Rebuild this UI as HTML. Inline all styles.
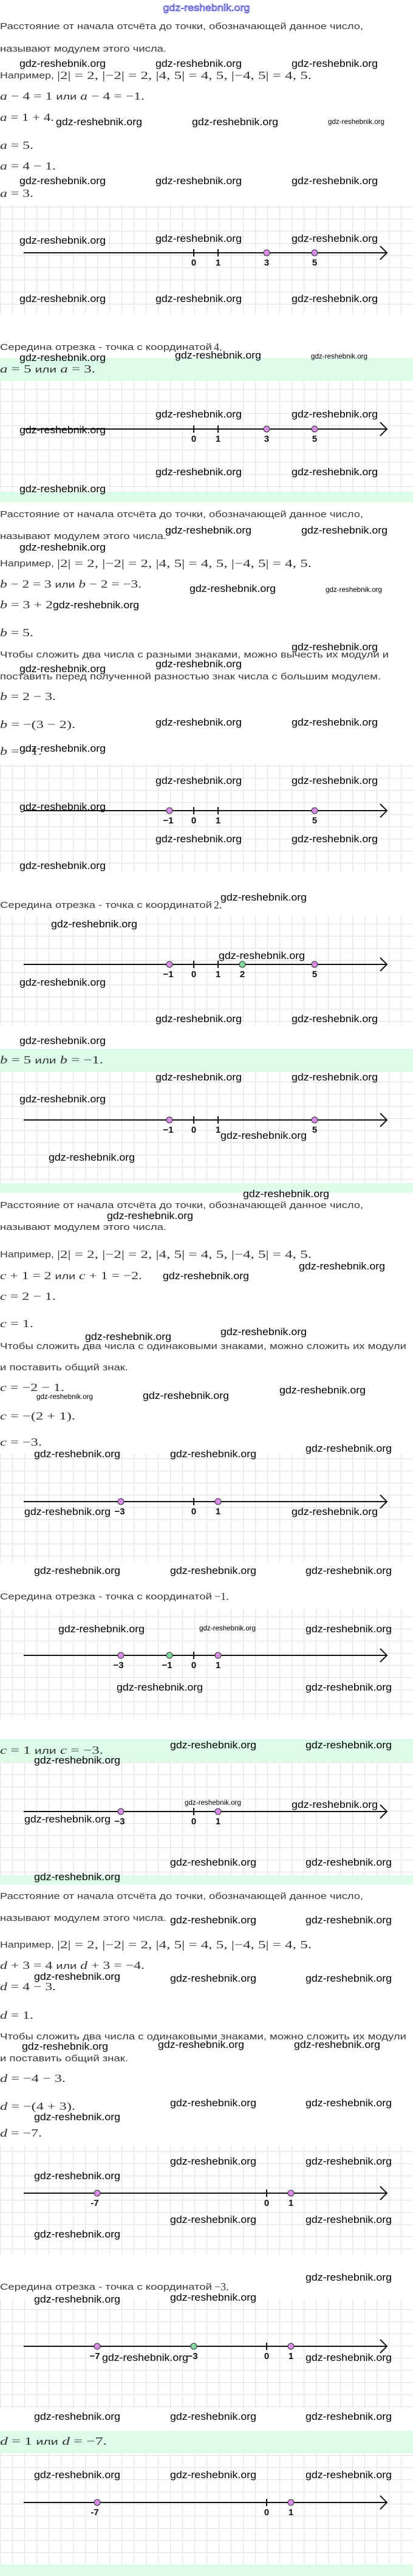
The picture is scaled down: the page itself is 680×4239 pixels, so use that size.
<!DOCTYPE html>
<html><head><meta charset="utf-8"><style>
html,body{margin:0;padding:0;background:#fff}
svg{display:block}
.b{font-family:"Liberation Sans",sans-serif;font-size:15px;fill:#3a3a3a}
.m{font-family:"Liberation Serif",serif;font-size:18px;fill:#333}
.m tspan.i{font-style:italic}
.m tspan.r{font-family:"Liberation Sans",sans-serif;font-size:15px}
.w{font-family:"Liberation Sans",sans-serif;font-size:17px;fill:#000}
.s{font-family:"Liberation Sans",sans-serif;font-size:12px;fill:#000}
.l{font-family:"Liberation Sans",sans-serif;font-size:15px;font-weight:bold;fill:#111;text-anchor:middle}
</style></head><body>
<svg width="680" height="4239" viewBox="0 0 680 4239" xmlns="http://www.w3.org/2000/svg">
<defs>
<pattern id="g" width="20" height="20" patternUnits="userSpaceOnUse">
<rect width="20" height="20" fill="#fff"/>
<path d="M0 0.5H20M0.5 0V20" stroke="#e4e4e4" stroke-width="1"/>
</pattern>
<g id="ar"><line x1="39" y1="0" x2="636" y2="0" stroke="#111" stroke-width="2"/><polyline points="626,-11 637,0 626,11" fill="none" stroke="#111" stroke-width="2"/></g>
</defs>

<!-- grids & bands -->
<rect x="0" y="337" width="680" height="181" fill="url(#g)"/>
<rect x="0" y="589" width="680" height="38" fill="#dcfce9"/>
<rect x="0" y="627" width="680" height="182" fill="url(#g)"/>
<rect x="0" y="809" width="680" height="18" fill="#dcfce9"/>
<rect x="0" y="1256" width="680" height="180" fill="url(#g)"/>
<rect x="0" y="1507" width="680" height="181" fill="url(#g)"/>
<rect x="0" y="1726" width="680" height="38" fill="#dcfce9"/>
<rect x="0" y="1764" width="680" height="183" fill="url(#g)"/>
<rect x="0" y="1947" width="680" height="16" fill="#dcfce9"/>
<rect x="0" y="2392" width="680" height="179" fill="url(#g)"/>
<rect x="0" y="2647" width="680" height="180" fill="url(#g)"/>
<rect x="0" y="2862" width="680" height="37" fill="#dcfce9"/>
<rect x="0" y="2899" width="680" height="187" fill="url(#g)"/>
<rect x="0" y="3086" width="680" height="15" fill="#dcfce9"/>
<rect x="0" y="3531" width="680" height="179" fill="url(#g)"/>
<rect x="0" y="3783" width="680" height="181" fill="url(#g)"/>
<rect x="0" y="4000" width="680" height="37" fill="#dcfce9"/>
<rect x="0" y="4037" width="680" height="183" fill="url(#g)"/>
<rect x="0" y="4220" width="680" height="19" fill="#dcfce9"/>

<!-- title -->
<text x="340" y="18" text-anchor="middle" font-family="Liberation Sans,sans-serif" font-size="16" fill="#fff" stroke="#3b3bd0" stroke-width="0.8" textLength="143" lengthAdjust="spacingAndGlyphs">gdz-reshebnik.org</text>

<!-- ===== Section A ===== -->
<text class="b" x="0" y="48" textLength="598" lengthAdjust="spacingAndGlyphs">Расстояние от начала отсчёта до точки, обозначающей данное число,</text>
<text class="b" x="0" y="85" textLength="274" lengthAdjust="spacingAndGlyphs">называют модулем этого числа.</text>
<text class="b" x="0" y="129" textLength="89" lengthAdjust="spacingAndGlyphs">Например,</text>
<text class="m" x="94" y="130" textLength="419" lengthAdjust="spacingAndGlyphs">|2| = 2,  |−2| = 2,  |4, 5| = 4, 5,  |−4, 5| = 4, 5.</text>
<text class="m" x="0" y="164" textLength="238" lengthAdjust="spacingAndGlyphs"><tspan class="i">a</tspan> − 4 = 1 <tspan class="r">или</tspan> <tspan class="i">a</tspan> − 4 = −1.</text>
<text class="m" x="0" y="199" textLength="89" lengthAdjust="spacingAndGlyphs"><tspan class="i">a</tspan> = 1 + 4.</text>
<text class="m" x="0" y="245" textLength="55" lengthAdjust="spacingAndGlyphs"><tspan class="i">a</tspan> = 5.</text>
<text class="m" x="0" y="279" textLength="92" lengthAdjust="spacingAndGlyphs"><tspan class="i">a</tspan> = 4 − 1.</text>
<text class="m" x="0" y="324" textLength="55" lengthAdjust="spacingAndGlyphs"><tspan class="i">a</tspan> = 3.</text>

<use href="#ar" y="416"/>
<line x1="319" y1="410" x2="319" y2="422" stroke="#111" stroke-width="2"/>
<line x1="359" y1="410" x2="359" y2="422" stroke="#111" stroke-width="2"/>
<circle cx="439" cy="416" r="5" fill="#d98be8" stroke="#333"/>
<circle cx="518" cy="416" r="5" fill="#d98be8" stroke="#333"/>
<text class="l" x="319" y="425" dy="12">0</text><text class="l" x="359" y="425" dy="12">1</text><text class="l" x="439" y="425" dy="12">3</text><text class="l" x="518" y="425" dy="12">5</text>

<text class="b" x="0" y="576" textLength="349" lengthAdjust="spacingAndGlyphs">Середина отрезка - точка с координатой</text>
<text class="m" x="352" y="577">4.</text>
<text class="m" x="0" y="613" textLength="157" lengthAdjust="spacingAndGlyphs"><tspan class="i">a</tspan> = 5 <tspan class="r">или</tspan> <tspan class="i">a</tspan> = 3.</text>

<use href="#ar" y="706"/>
<line x1="319" y1="700" x2="319" y2="712" stroke="#111" stroke-width="2"/>
<line x1="359" y1="700" x2="359" y2="712" stroke="#111" stroke-width="2"/>
<circle cx="439" cy="706" r="5" fill="#d98be8" stroke="#333"/>
<circle cx="518" cy="706" r="5" fill="#d98be8" stroke="#333"/>
<text class="l" x="319" y="727">0</text><text class="l" x="359" y="727">1</text><text class="l" x="439" y="727">3</text><text class="l" x="518" y="727">5</text>

<!-- ===== Section B ===== -->
<text class="b" x="0" y="851" textLength="598" lengthAdjust="spacingAndGlyphs">Расстояние от начала отсчёта до точки, обозначающей данное число,</text>
<text class="b" x="0" y="887" textLength="274" lengthAdjust="spacingAndGlyphs">называют модулем этого числа.</text>
<text class="b" x="0" y="932" textLength="89" lengthAdjust="spacingAndGlyphs">Например,</text>
<text class="m" x="94" y="933" textLength="419" lengthAdjust="spacingAndGlyphs">|2| = 2,  |−2| = 2,  |4, 5| = 4, 5,  |−4, 5| = 4, 5.</text>
<text class="m" x="0" y="967" textLength="233" lengthAdjust="spacingAndGlyphs"><tspan class="i">b</tspan> − 2 = 3 <tspan class="r">или</tspan> <tspan class="i">b</tspan> − 2 = −3.</text>
<text class="m" x="0" y="1001" textLength="87" lengthAdjust="spacingAndGlyphs"><tspan class="i">b</tspan> = 3 + 2</text>
<text class="m" x="0" y="1047" textLength="55" lengthAdjust="spacingAndGlyphs"><tspan class="i">b</tspan> = 5.</text>
<text class="b" x="0" y="1082" textLength="640" lengthAdjust="spacingAndGlyphs">Чтобы сложить два числа с разными знаками, можно вычесть их модули и</text>
<text class="b" x="0" y="1118" textLength="627" lengthAdjust="spacingAndGlyphs">поставить перед полученной разностью знак числа с большим модулем.</text>
<text class="m" x="0" y="1152" textLength="92" lengthAdjust="spacingAndGlyphs"><tspan class="i">b</tspan> = 2 − 3.</text>
<text class="m" x="0" y="1198" textLength="124" lengthAdjust="spacingAndGlyphs"><tspan class="i">b</tspan> = −(3 − 2).</text>
<text class="m" x="0" y="1242" textLength="69" lengthAdjust="spacingAndGlyphs"><tspan class="i">b</tspan> = −1.</text>

<use href="#ar" y="1334"/>
<line x1="319" y1="1328" x2="319" y2="1340" stroke="#111" stroke-width="2"/>
<line x1="359" y1="1328" x2="359" y2="1340" stroke="#111" stroke-width="2"/>
<circle cx="279" cy="1334" r="5" fill="#d98be8" stroke="#333"/>
<circle cx="518" cy="1334" r="5" fill="#d98be8" stroke="#333"/>
<text class="l" x="277" y="1355">−1</text><text class="l" x="319" y="1355">0</text><text class="l" x="359" y="1355">1</text><text class="l" x="518" y="1355">5</text>

<text class="b" x="0" y="1494" textLength="349" lengthAdjust="spacingAndGlyphs">Середина отрезка - точка с координатой</text>
<text class="m" x="352" y="1495">2.</text>

<use href="#ar" y="1587"/>
<line x1="319" y1="1581" x2="319" y2="1593" stroke="#111" stroke-width="2"/>
<line x1="359" y1="1581" x2="359" y2="1593" stroke="#111" stroke-width="2"/>
<circle cx="279" cy="1587" r="5" fill="#d98be8" stroke="#333"/>
<circle cx="399" cy="1587" r="5" fill="#7fd9a0" stroke="#333"/>
<circle cx="518" cy="1587" r="5" fill="#d98be8" stroke="#333"/>
<text class="l" x="277" y="1608">−1</text><text class="l" x="319" y="1608">0</text><text class="l" x="359" y="1608">1</text><text class="l" x="399" y="1608">2</text><text class="l" x="518" y="1608">5</text>

<text class="m" x="0" y="1750" textLength="170" lengthAdjust="spacingAndGlyphs"><tspan class="i">b</tspan> = 5 <tspan class="r">или</tspan> <tspan class="i">b</tspan> = −1.</text>

<use href="#ar" y="1843"/>
<line x1="319" y1="1837" x2="319" y2="1849" stroke="#111" stroke-width="2"/>
<line x1="359" y1="1837" x2="359" y2="1849" stroke="#111" stroke-width="2"/>
<circle cx="279" cy="1843" r="5" fill="#d98be8" stroke="#333"/>
<circle cx="518" cy="1843" r="5" fill="#d98be8" stroke="#333"/>
<text class="l" x="277" y="1864">−1</text><text class="l" x="319" y="1864">0</text><text class="l" x="359" y="1864">1</text><text class="l" x="518" y="1864">5</text>

<!-- ===== Section C ===== -->
<text class="b" x="0" y="1988" textLength="598" lengthAdjust="spacingAndGlyphs">Расстояние от начала отсчёта до точки, обозначающей данное число,</text>
<text class="b" x="0" y="2024" textLength="274" lengthAdjust="spacingAndGlyphs">называют модулем этого числа.</text>
<text class="b" x="0" y="2069" textLength="89" lengthAdjust="spacingAndGlyphs">Например,</text>
<text class="m" x="94" y="2070" textLength="419" lengthAdjust="spacingAndGlyphs">|2| = 2,  |−2| = 2,  |4, 5| = 4, 5,  |−4, 5| = 4, 5.</text>
<text class="m" x="0" y="2105" textLength="234" lengthAdjust="spacingAndGlyphs"><tspan class="i">c</tspan> + 1 = 2 <tspan class="r">или</tspan> <tspan class="i">c</tspan> + 1 = −2.</text>
<text class="m" x="0" y="2139" textLength="92" lengthAdjust="spacingAndGlyphs"><tspan class="i">c</tspan> = 2 − 1.</text>
<text class="m" x="0" y="2184" textLength="55" lengthAdjust="spacingAndGlyphs"><tspan class="i">c</tspan> = 1.</text>
<text class="b" x="0" y="2220" textLength="669" lengthAdjust="spacingAndGlyphs">Чтобы сложить два числа с одинаковыми знаками, можно сложить их модули</text>
<text class="b" x="0" y="2255" textLength="211" lengthAdjust="spacingAndGlyphs">и поставить общий знак.</text>
<text class="m" x="0" y="2289" textLength="106" lengthAdjust="spacingAndGlyphs"><tspan class="i">c</tspan> = −2 − 1.</text>
<text class="m" x="0" y="2336" textLength="124" lengthAdjust="spacingAndGlyphs"><tspan class="i">c</tspan> = −(2 + 1).</text>
<text class="m" x="0" y="2379" textLength="69" lengthAdjust="spacingAndGlyphs"><tspan class="i">c</tspan> = −3.</text>

<use href="#ar" y="2471"/>
<line x1="319" y1="2465" x2="319" y2="2477" stroke="#111" stroke-width="2"/>
<circle cx="199" cy="2471" r="5" fill="#d98be8" stroke="#333"/>
<circle cx="359" cy="2471" r="5" fill="#d98be8" stroke="#333"/>
<text class="l" x="197" y="2492">−3</text><text class="l" x="319" y="2492">0</text><text class="l" x="359" y="2492">1</text>

<text class="b" x="0" y="2632" textLength="349" lengthAdjust="spacingAndGlyphs">Середина отрезка - точка с координатой</text>
<text class="m" x="353" y="2633">−1.</text>

<use href="#ar" y="2724"/>
<line x1="319" y1="2718" x2="319" y2="2730" stroke="#111" stroke-width="2"/>
<circle cx="199" cy="2724" r="5" fill="#d98be8" stroke="#333"/>
<circle cx="279" cy="2724" r="5" fill="#7fd9a0" stroke="#333"/>
<circle cx="359" cy="2724" r="5" fill="#d98be8" stroke="#333"/>
<text class="l" x="195" y="2745">−3</text><text class="l" x="275" y="2745">−1</text><text class="l" x="319" y="2745">0</text><text class="l" x="359" y="2745">1</text>

<text class="m" x="0" y="2886" textLength="170" lengthAdjust="spacingAndGlyphs"><tspan class="i">c</tspan> = 1 <tspan class="r">или</tspan> <tspan class="i">c</tspan> = −3.</text>

<use href="#ar" y="2981"/>
<line x1="319" y1="2975" x2="319" y2="2987" stroke="#111" stroke-width="2"/>
<circle cx="199" cy="2981" r="5" fill="#d98be8" stroke="#333"/>
<circle cx="359" cy="2981" r="5" fill="#d98be8" stroke="#333"/>
<text class="l" x="197" y="3002">−3</text><text class="l" x="319" y="3002">0</text><text class="l" x="359" y="3002">1</text>

<!-- ===== Section D ===== -->
<text class="b" x="0" y="3125" textLength="598" lengthAdjust="spacingAndGlyphs">Расстояние от начала отсчёта до точки, обозначающей данное число,</text>
<text class="b" x="0" y="3161" textLength="274" lengthAdjust="spacingAndGlyphs">называют модулем этого числа.</text>
<text class="b" x="0" y="3205" textLength="89" lengthAdjust="spacingAndGlyphs">Например,</text>
<text class="m" x="94" y="3206" textLength="419" lengthAdjust="spacingAndGlyphs">|2| = 2,  |−2| = 2,  |4, 5| = 4, 5,  |−4, 5| = 4, 5.</text>
<text class="m" x="0" y="3240" textLength="238" lengthAdjust="spacingAndGlyphs"><tspan class="i">d</tspan> + 3 = 4 <tspan class="r">или</tspan> <tspan class="i">d</tspan> + 3 = −4.</text>
<text class="m" x="0" y="3275" textLength="92" lengthAdjust="spacingAndGlyphs"><tspan class="i">d</tspan> = 4 − 3.</text>
<text class="m" x="0" y="3322" textLength="55" lengthAdjust="spacingAndGlyphs"><tspan class="i">d</tspan> = 1.</text>
<text class="b" x="0" y="3356" textLength="669" lengthAdjust="spacingAndGlyphs">Чтобы сложить два числа с одинаковыми знаками, можно сложить их модули</text>
<text class="b" x="0" y="3392" textLength="211" lengthAdjust="spacingAndGlyphs">и поставить общий знак.</text>
<text class="m" x="0" y="3426" textLength="108" lengthAdjust="spacingAndGlyphs"><tspan class="i">d</tspan> = −4 − 3.</text>
<text class="m" x="0" y="3472" textLength="124" lengthAdjust="spacingAndGlyphs"><tspan class="i">d</tspan> = −(4 + 3).</text>
<text class="m" x="0" y="3516" textLength="69" lengthAdjust="spacingAndGlyphs"><tspan class="i">d</tspan> = −7.</text>

<use href="#ar" y="3609"/>
<line x1="439" y1="3603" x2="439" y2="3615" stroke="#111" stroke-width="2"/>
<circle cx="160" cy="3609" r="5" fill="#d98be8" stroke="#333"/>
<circle cx="479" cy="3609" r="5" fill="#d98be8" stroke="#333"/>
<text class="l" x="156" y="3630">-7</text><text class="l" x="439" y="3630">0</text><text class="l" x="479" y="3630">1</text>

<text class="b" x="0" y="3768" textLength="349" lengthAdjust="spacingAndGlyphs">Середина отрезка - точка с координатой</text>
<text class="m" x="353" y="3769">−3.</text>

<use href="#ar" y="3861"/>
<line x1="439" y1="3855" x2="439" y2="3867" stroke="#111" stroke-width="2"/>
<circle cx="160" cy="3861" r="5" fill="#d98be8" stroke="#333"/>
<circle cx="319" cy="3861" r="5" fill="#7fd9a0" stroke="#333"/>
<circle cx="479" cy="3861" r="5" fill="#d98be8" stroke="#333"/>
<text class="l" x="156" y="3882">−7</text><text class="l" x="317" y="3882">−3</text><text class="l" x="439" y="3882">0</text><text class="l" x="479" y="3882">1</text>

<text class="m" x="0" y="4023" textLength="176" lengthAdjust="spacingAndGlyphs"><tspan class="i">d</tspan> = 1 <tspan class="r">или</tspan> <tspan class="i">d</tspan> = −7.</text>

<use href="#ar" y="4118"/>
<line x1="439" y1="4112" x2="439" y2="4124" stroke="#111" stroke-width="2"/>
<circle cx="160" cy="4118" r="5" fill="#d98be8" stroke="#333"/>
<circle cx="479" cy="4118" r="5" fill="#d98be8" stroke="#333"/>
<text class="l" x="156" y="4139">-7</text><text class="l" x="439" y="4139">0</text><text class="l" x="479" y="4139">1</text>

<!-- ===== watermarks ===== -->
<g class="w">
<text x="32" y="110" textLength="142" lengthAdjust="spacingAndGlyphs">gdz-reshebnik.org</text>
<text x="256" y="110" textLength="142" lengthAdjust="spacingAndGlyphs">gdz-reshebnik.org</text>
<text x="480" y="110" textLength="142" lengthAdjust="spacingAndGlyphs">gdz-reshebnik.org</text>
<text x="92" y="206" textLength="142" lengthAdjust="spacingAndGlyphs">gdz-reshebnik.org</text>
<text x="316" y="206" textLength="142" lengthAdjust="spacingAndGlyphs">gdz-reshebnik.org</text>
<text x="32" y="303" textLength="142" lengthAdjust="spacingAndGlyphs">gdz-reshebnik.org</text>
<text x="256" y="303" textLength="142" lengthAdjust="spacingAndGlyphs">gdz-reshebnik.org</text>
<text x="480" y="303" textLength="142" lengthAdjust="spacingAndGlyphs">gdz-reshebnik.org</text>
<text x="32" y="401" textLength="142" lengthAdjust="spacingAndGlyphs">gdz-reshebnik.org</text>
<text x="256" y="398" textLength="142" lengthAdjust="spacingAndGlyphs">gdz-reshebnik.org</text>
<text x="480" y="398" textLength="142" lengthAdjust="spacingAndGlyphs">gdz-reshebnik.org</text>
<text x="32" y="497" textLength="142" lengthAdjust="spacingAndGlyphs">gdz-reshebnik.org</text>
<text x="256" y="497" textLength="142" lengthAdjust="spacingAndGlyphs">gdz-reshebnik.org</text>
<text x="480" y="497" textLength="142" lengthAdjust="spacingAndGlyphs">gdz-reshebnik.org</text>
<text x="32" y="594" textLength="142" lengthAdjust="spacingAndGlyphs">gdz-reshebnik.org</text>
<text x="288" y="590" textLength="142" lengthAdjust="spacingAndGlyphs">gdz-reshebnik.org</text>
<text x="256" y="687" textLength="142" lengthAdjust="spacingAndGlyphs">gdz-reshebnik.org</text>
<text x="480" y="687" textLength="142" lengthAdjust="spacingAndGlyphs">gdz-reshebnik.org</text>
<text x="32" y="713" textLength="142" lengthAdjust="spacingAndGlyphs">gdz-reshebnik.org</text>
<text x="256" y="782" textLength="142" lengthAdjust="spacingAndGlyphs">gdz-reshebnik.org</text>
<text x="480" y="782" textLength="142" lengthAdjust="spacingAndGlyphs">gdz-reshebnik.org</text>
<text x="32" y="810" textLength="142" lengthAdjust="spacingAndGlyphs">gdz-reshebnik.org</text>
<text x="272" y="878" textLength="142" lengthAdjust="spacingAndGlyphs">gdz-reshebnik.org</text>
<text x="496" y="878" textLength="142" lengthAdjust="spacingAndGlyphs">gdz-reshebnik.org</text>
<text x="32" y="906" textLength="142" lengthAdjust="spacingAndGlyphs">gdz-reshebnik.org</text>
<text x="312" y="974" textLength="142" lengthAdjust="spacingAndGlyphs">gdz-reshebnik.org</text>
<text x="87" y="1001" textLength="142" lengthAdjust="spacingAndGlyphs">gdz-reshebnik.org</text>
<text x="480" y="1070" textLength="142" lengthAdjust="spacingAndGlyphs">gdz-reshebnik.org</text>
<text x="256" y="1098" textLength="142" lengthAdjust="spacingAndGlyphs">gdz-reshebnik.org</text>
<text x="32" y="1106" textLength="142" lengthAdjust="spacingAndGlyphs">gdz-reshebnik.org</text>
<text x="256" y="1194" textLength="142" lengthAdjust="spacingAndGlyphs">gdz-reshebnik.org</text>
<text x="480" y="1194" textLength="142" lengthAdjust="spacingAndGlyphs">gdz-reshebnik.org</text>
<text x="32" y="1237" textLength="142" lengthAdjust="spacingAndGlyphs">gdz-reshebnik.org</text>
<text x="256" y="1290" textLength="142" lengthAdjust="spacingAndGlyphs">gdz-reshebnik.org</text>
<text x="480" y="1290" textLength="142" lengthAdjust="spacingAndGlyphs">gdz-reshebnik.org</text>
<text x="32" y="1333" textLength="142" lengthAdjust="spacingAndGlyphs">gdz-reshebnik.org</text>
<text x="256" y="1386" textLength="142" lengthAdjust="spacingAndGlyphs">gdz-reshebnik.org</text>
<text x="480" y="1386" textLength="142" lengthAdjust="spacingAndGlyphs">gdz-reshebnik.org</text>
<text x="32" y="1430" textLength="142" lengthAdjust="spacingAndGlyphs">gdz-reshebnik.org</text>
<text x="363" y="1482" textLength="142" lengthAdjust="spacingAndGlyphs">gdz-reshebnik.org</text>
<text x="84" y="1526" textLength="142" lengthAdjust="spacingAndGlyphs">gdz-reshebnik.org</text>
<text x="360" y="1578" textLength="142" lengthAdjust="spacingAndGlyphs">gdz-reshebnik.org</text>
<text x="32" y="1622" textLength="142" lengthAdjust="spacingAndGlyphs">gdz-reshebnik.org</text>
<text x="256" y="1682" textLength="142" lengthAdjust="spacingAndGlyphs">gdz-reshebnik.org</text>
<text x="480" y="1682" textLength="142" lengthAdjust="spacingAndGlyphs">gdz-reshebnik.org</text>
<text x="32" y="1718" textLength="142" lengthAdjust="spacingAndGlyphs">gdz-reshebnik.org</text>
<text x="256" y="1778" textLength="142" lengthAdjust="spacingAndGlyphs">gdz-reshebnik.org</text>
<text x="480" y="1778" textLength="142" lengthAdjust="spacingAndGlyphs">gdz-reshebnik.org</text>
<text x="32" y="1814" textLength="142" lengthAdjust="spacingAndGlyphs">gdz-reshebnik.org</text>
<text x="363" y="1874" textLength="142" lengthAdjust="spacingAndGlyphs">gdz-reshebnik.org</text>
<text x="80" y="1910" textLength="142" lengthAdjust="spacingAndGlyphs">gdz-reshebnik.org</text>
<text x="400" y="1970" textLength="142" lengthAdjust="spacingAndGlyphs">gdz-reshebnik.org</text>
<text x="176" y="2006" textLength="142" lengthAdjust="spacingAndGlyphs">gdz-reshebnik.org</text>
<text x="492" y="2089" textLength="142" lengthAdjust="spacingAndGlyphs">gdz-reshebnik.org</text>
<text x="268" y="2105" textLength="142" lengthAdjust="spacingAndGlyphs">gdz-reshebnik.org</text>
<text x="140" y="2205" textLength="142" lengthAdjust="spacingAndGlyphs">gdz-reshebnik.org</text>
<text x="363" y="2197" textLength="142" lengthAdjust="spacingAndGlyphs">gdz-reshebnik.org</text>
<text x="235" y="2302" textLength="142" lengthAdjust="spacingAndGlyphs">gdz-reshebnik.org</text>
<text x="460" y="2293" textLength="142" lengthAdjust="spacingAndGlyphs">gdz-reshebnik.org</text>
<text x="56" y="2398" textLength="142" lengthAdjust="spacingAndGlyphs">gdz-reshebnik.org</text>
<text x="280" y="2398" textLength="142" lengthAdjust="spacingAndGlyphs">gdz-reshebnik.org</text>
<text x="503" y="2389" textLength="142" lengthAdjust="spacingAndGlyphs">gdz-reshebnik.org</text>
<text x="40" y="2493" textLength="142" lengthAdjust="spacingAndGlyphs">gdz-reshebnik.org</text>
<text x="480" y="2493" textLength="142" lengthAdjust="spacingAndGlyphs">gdz-reshebnik.org</text>
<text x="56" y="2590" textLength="142" lengthAdjust="spacingAndGlyphs">gdz-reshebnik.org</text>
<text x="280" y="2590" textLength="142" lengthAdjust="spacingAndGlyphs">gdz-reshebnik.org</text>
<text x="503" y="2590" textLength="142" lengthAdjust="spacingAndGlyphs">gdz-reshebnik.org</text>
<text x="96" y="2686" textLength="142" lengthAdjust="spacingAndGlyphs">gdz-reshebnik.org</text>
<text x="503" y="2686" textLength="142" lengthAdjust="spacingAndGlyphs">gdz-reshebnik.org</text>
<text x="192" y="2782" textLength="142" lengthAdjust="spacingAndGlyphs">gdz-reshebnik.org</text>
<text x="503" y="2782" textLength="142" lengthAdjust="spacingAndGlyphs">gdz-reshebnik.org</text>
<text x="280" y="2877" textLength="142" lengthAdjust="spacingAndGlyphs">gdz-reshebnik.org</text>
<text x="503" y="2877" textLength="142" lengthAdjust="spacingAndGlyphs">gdz-reshebnik.org</text>
<text x="56" y="2902" textLength="142" lengthAdjust="spacingAndGlyphs">gdz-reshebnik.org</text>
<text x="40" y="2999" textLength="142" lengthAdjust="spacingAndGlyphs">gdz-reshebnik.org</text>
<text x="480" y="2975" textLength="142" lengthAdjust="spacingAndGlyphs">gdz-reshebnik.org</text>
<text x="280" y="3070" textLength="142" lengthAdjust="spacingAndGlyphs">gdz-reshebnik.org</text>
<text x="503" y="3070" textLength="142" lengthAdjust="spacingAndGlyphs">gdz-reshebnik.org</text>
<text x="56" y="3094" textLength="142" lengthAdjust="spacingAndGlyphs">gdz-reshebnik.org</text>
<text x="280" y="3165" textLength="142" lengthAdjust="spacingAndGlyphs">gdz-reshebnik.org</text>
<text x="503" y="3165" textLength="142" lengthAdjust="spacingAndGlyphs">gdz-reshebnik.org</text>
<text x="56" y="3258" textLength="142" lengthAdjust="spacingAndGlyphs">gdz-reshebnik.org</text>
<text x="280" y="3261" textLength="142" lengthAdjust="spacingAndGlyphs">gdz-reshebnik.org</text>
<text x="503" y="3261" textLength="142" lengthAdjust="spacingAndGlyphs">gdz-reshebnik.org</text>
<text x="36" y="3373" textLength="142" lengthAdjust="spacingAndGlyphs">gdz-reshebnik.org</text>
<text x="260" y="3370" textLength="142" lengthAdjust="spacingAndGlyphs">gdz-reshebnik.org</text>
<text x="484" y="3370" textLength="142" lengthAdjust="spacingAndGlyphs">gdz-reshebnik.org</text>
<text x="280" y="3466" textLength="142" lengthAdjust="spacingAndGlyphs">gdz-reshebnik.org</text>
<text x="503" y="3466" textLength="142" lengthAdjust="spacingAndGlyphs">gdz-reshebnik.org</text>
<text x="56" y="3489" textLength="142" lengthAdjust="spacingAndGlyphs">gdz-reshebnik.org</text>
<text x="280" y="3562" textLength="142" lengthAdjust="spacingAndGlyphs">gdz-reshebnik.org</text>
<text x="503" y="3562" textLength="142" lengthAdjust="spacingAndGlyphs">gdz-reshebnik.org</text>
<text x="56" y="3586" textLength="142" lengthAdjust="spacingAndGlyphs">gdz-reshebnik.org</text>
<text x="280" y="3658" textLength="142" lengthAdjust="spacingAndGlyphs">gdz-reshebnik.org</text>
<text x="503" y="3658" textLength="142" lengthAdjust="spacingAndGlyphs">gdz-reshebnik.org</text>
<text x="56" y="3682" textLength="142" lengthAdjust="spacingAndGlyphs">gdz-reshebnik.org</text>
<text x="503" y="3753" textLength="142" lengthAdjust="spacingAndGlyphs">gdz-reshebnik.org</text>
<text x="56" y="3789" textLength="142" lengthAdjust="spacingAndGlyphs">gdz-reshebnik.org</text>
<text x="280" y="3786" textLength="142" lengthAdjust="spacingAndGlyphs">gdz-reshebnik.org</text>
<text x="168" y="3885" textLength="142" lengthAdjust="spacingAndGlyphs">gdz-reshebnik.org</text>
<text x="503" y="3885" textLength="142" lengthAdjust="spacingAndGlyphs">gdz-reshebnik.org</text>
<text x="56" y="3982" textLength="142" lengthAdjust="spacingAndGlyphs">gdz-reshebnik.org</text>
<text x="280" y="3982" textLength="142" lengthAdjust="spacingAndGlyphs">gdz-reshebnik.org</text>
<text x="503" y="3982" textLength="142" lengthAdjust="spacingAndGlyphs">gdz-reshebnik.org</text>
<text x="56" y="4078" textLength="142" lengthAdjust="spacingAndGlyphs">gdz-reshebnik.org</text>
<text x="280" y="4078" textLength="142" lengthAdjust="spacingAndGlyphs">gdz-reshebnik.org</text>
<text x="503" y="4078" textLength="142" lengthAdjust="spacingAndGlyphs">gdz-reshebnik.org</text>
</g>
<g class="s">
<text x="540" y="204" textLength="93" lengthAdjust="spacingAndGlyphs">gdz-reshebnik.org</text>
<text x="512" y="590" textLength="93" lengthAdjust="spacingAndGlyphs">gdz-reshebnik.org</text>
<text x="536" y="974" textLength="93" lengthAdjust="spacingAndGlyphs">gdz-reshebnik.org</text>
<text x="60" y="2302" textLength="93" lengthAdjust="spacingAndGlyphs">gdz-reshebnik.org</text>
<text x="328" y="2683" textLength="93" lengthAdjust="spacingAndGlyphs">gdz-reshebnik.org</text>
<text x="304" y="2970" textLength="93" lengthAdjust="spacingAndGlyphs">gdz-reshebnik.org</text>
</g>
</svg>
</body></html>
